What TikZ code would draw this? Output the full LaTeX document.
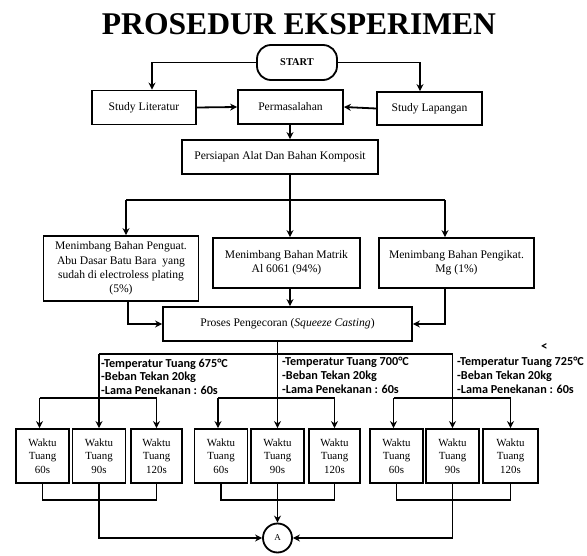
\documentclass[tikz,border=0pt]{standalone}
\usepackage{fontspec}
\setmainfont{Liberation Serif}
\newfontfamily\labfont{Carlito}
\usetikzlibrary{arrows.meta,calc}
\begin{document}
\begin{tikzpicture}[x=1pt,y=-1pt,
  ln/.style={line width=1.8pt},
  arr/.style={ln,-{Stealth[length=7pt,width=7pt]}},
  box/.style={draw,line width=1.8pt,align=center,inner sep=0pt,font=\fontsize{11.6}{14.3}\selectfont},
  wt/.style={box,minimum height=54pt,minimum width=53pt,font=\fontsize{10.9}{13.5}\selectfont},
  lbl/.style={anchor=base west,inner sep=0pt,font=\labfont\bfseries\fontsize{12.2}{14}\selectfont}]
\useasboundingbox (0,0) rectangle (587,556);

\node[anchor=base,inner sep=0pt,font=\bfseries\fontsize{31.6}{33}\selectfont] (title) at (299,35) {PROSEDUR EKSPERIMEN};

\node[box,rounded corners=14pt,minimum width=80pt,minimum height=35pt,font=\bfseries\fontsize{10.4}{12}\selectfont] (start) at (297,62.5) {START};
\node[box,minimum width=104pt,minimum height=34pt] (lit) at (144,107.5) {Study Literatur};
\node[box,minimum width=105pt,minimum height=34pt] (perm) at (290.5,107) {Permasalahan};
\node[box,minimum width=105pt,minimum height=33pt] (lap) at (429.5,108.5) {Study Lapangan};
\node[box,minimum width=196pt,minimum height=34pt] (pers) at (280,157) {Persiapan Alat Dan Bahan Komposit};

\node[box,minimum width=155pt,minimum height=65pt] (lb) at (121,268.5) {Menimbang Bahan Penguat.\\Abu Dasar Batu Bara\ \ yang\\sudah di electroless plating\\(5\%)};
\node[box,minimum width=147pt,minimum height=50pt] (mb) at (286.5,263) {Menimbang Bahan Matrik\\Al 6061 (94\%)};
\node[box,minimum width=155pt,minimum height=50pt] (rb) at (456.5,263) {Menimbang Bahan Pengikat.\\Mg (1\%)};
\node[box,minimum width=249pt,minimum height=34pt] (pro) at (287.5,324) {Proses Pengecoran (\textit{Squeeze Casting})};

% groups
\node[wt] (g1a) at (42.5,456) {Waktu\\Tuang\\60s};
\node[wt] (g1b) at (99,456) {Waktu\\Tuang\\90s};
\node[wt,minimum width=51pt] (g1c) at (156.5,456) {Waktu\\Tuang\\120s};
\node[wt] (g2a) at (221,456) {Waktu\\Tuang\\60s};
\node[wt] (g2b) at (277.5,456) {Waktu\\Tuang\\90s};
\node[wt,minimum width=51pt] (g2c) at (334.5,456) {Waktu\\Tuang\\120s};
\node[wt] (g3a) at (396.5,456) {Waktu\\Tuang\\60s};
\node[wt] (g3b) at (452.5,456) {Waktu\\Tuang\\90s};
\node[wt,minimum width=55pt] (g3c) at (510.5,456) {Waktu\\Tuang\\120s};

\node[draw,circle,line width=1.8pt,minimum size=29pt,inner sep=0pt,font=\fontsize{9}{11}\selectfont] (A) at (277.5,538) {A};

% labels
\node[lbl] (t1a) at (101,367) {-Temperatur Tuang 675°C};
\node[lbl] (t1b) at (101,381) {-Beban Tekan 20kg};
\node[lbl] (t1c) at (101,395) {-Lama Penekanan : 60s};
\node[lbl] (t2a) at (282,366) {-Temperatur Tuang 700°C};
\node[lbl] (t2b) at (282,380) {-Beban Tekan 20kg};
\node[lbl] (t2c) at (282,394) {-Lama Penekanan : 60s};
\node[lbl] (t3a) at (457,366) {-Temperatur Tuang 725°C};
\node[lbl] (t3b) at (457,380) {-Beban Tekan 20kg};
\node[lbl] (t3c) at (457,394) {-Lama Penekanan : 60s};
\node[lbl,font=\labfont\bfseries\fontsize{13}{13}\selectfont] (lt) at (541,351) {<};

% connectors top
\coordinate (sp) at (290,0);
\draw[arr] (start.west) -| ($(lit.north)+(8,0)$);
\draw[arr] (start.east) -| ($(lap.north)+(-9.5,0)$);
\draw[arr] (lit.east) -- (perm.west);
\draw[arr] (lap.west) -- (perm.east);
\draw[arr] (sp |- perm.south) -- (sp |- pers.north);

\coordinate (j1) at (126,200);
\coordinate (j3) at (445,200);
\draw[ln] (j1) -- (j3);
\draw[arr] (j1) -- (j1 |- lb.north);
\draw[arr] (j3) -- (j3 |- rb.north);
\draw[arr] (sp |- pers.south) -- (sp |- mb.north);

\draw[arr] ($(lb.south)+(7,0)$) |- (pro.west);
\draw[arr] (sp |- mb.south) -- (sp |- pro.north);
\draw[arr] (j3 |- rb.south) |- (pro.east);

% to groups
\coordinate (k) at (0,354);
\draw[arr] (g2b.north |- pro.south) -- (g2b.north);
\draw[ln] (g1b.north |- k) -- (g3b.north |- k);
\draw[arr] (g1b.north |- k) -- (g1b.north);
\draw[arr] (g3b.north |- k) -- (g3b.north);

\coordinate (h) at (0,398);
\foreach \g in {1,2,3}{
  \draw[ln] ($(g\g a.north |- h)+(-3,0)$) -- (g\g c.north |- h);
  \draw[arr] ($(g\g a.north |- h)+(-3,0)$) -- ($(g\g a.north)+(-3,0)$);
  \draw[arr] (g\g c.north |- h) -- (g\g c.north);
}
\coordinate (b) at (0,500);
\foreach \g in {1,2,3}{
  \draw[ln] (g\g a.south) |- (g\g c.south |- b) -- (g\g c.south);
}
\draw[arr] (g1b.south) |- (A.west);
\draw[arr] (g2b.south) -- (A.north);
\draw[arr] (g3b.south) |- (A.east);
\end{tikzpicture}
\end{document}
